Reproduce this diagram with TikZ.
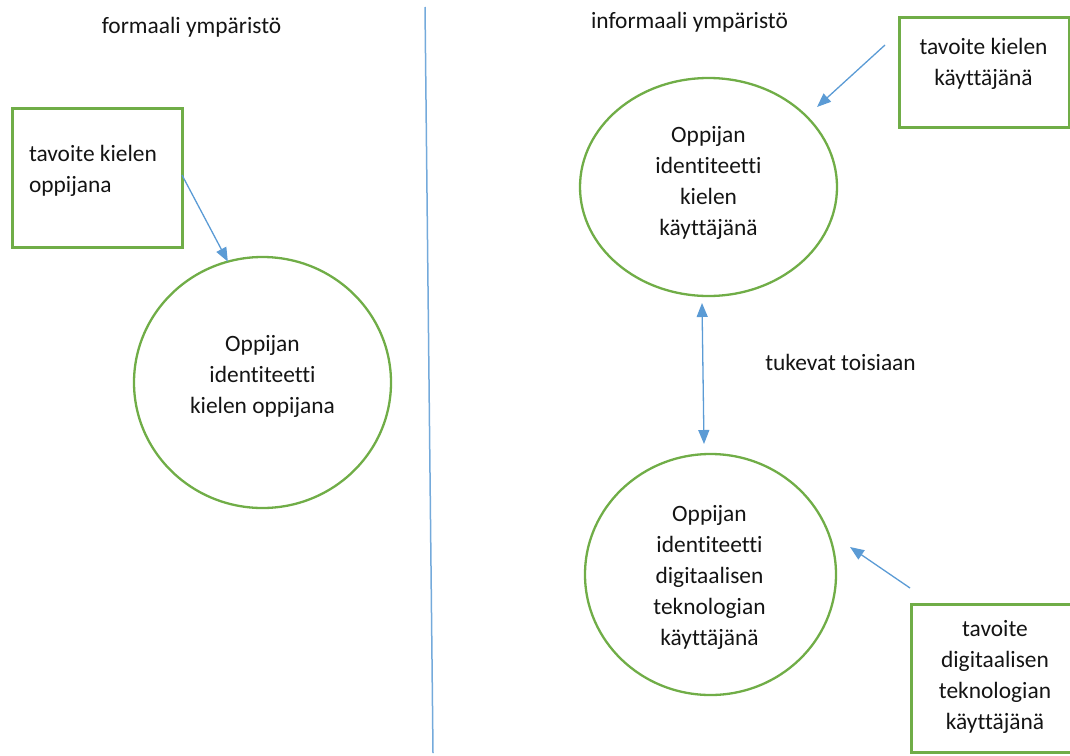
\documentclass[tikz,border=0pt]{standalone}
\usepackage{fontspec}
\setmainfont{Carlito}[RawFeature={-liga,-clig,-dlig}]
\usetikzlibrary{shapes.geometric,arrows.meta}
\definecolor{goalgreen}{HTML}{70AD47}
\definecolor{linkblue}{HTML}{5B9BD5}
\definecolor{inktext}{HTML}{141414}
\begin{document}
\begin{tikzpicture}[x=1pt,y=-1pt,
  every node/.style={inner sep=0pt, outer sep=0pt},
  txt/.style={font=\fontsize{23.4}{31}\selectfont, text=inktext, align=center},
  goalbox/.style={draw=goalgreen, line width=3pt, rectangle},
  identity/.style={draw=goalgreen, line width=2.3pt, ellipse},
  link/.style={draw=linkblue, line width=1.3pt, -{Triangle[length=14pt,width=11pt]}},
  twoway/.style={draw=linkblue, line width=1.3pt, {Triangle[length=14pt,width=11pt]}-{Triangle[length=14pt,width=11pt]}},
]
\useasboundingbox (0,0) rectangle (1070,755);

% headings of the two environments
\node[txt, anchor=base] (hformal) at (191.5,33) {formaali ympäristö};
\node[txt, anchor=base] (hinformal) at (689.5,28) {informaali ympäristö};

% divider between the two environments
\coordinate (divtop) at (425,7);
\coordinate (divbot) at (433,753);
\draw[linkblue!85, line width=1.5pt] (divtop) -- (divbot);

% goal boxes
\node[goalbox, minimum width=170pt, minimum height=139pt] (box1) at (97,177.5) {};
\node[txt, align=left, anchor=west] (box1t) at (29,170.5) {tavoite kielen\\oppijana};

\node[goalbox, minimum width=170pt, minimum height=110pt] (box2) at (984,72) {};
\node[txt] (box2t) at (983.5,64) {tavoite kielen\\käyttäjänä};

\node[goalbox, minimum width=168pt, minimum height=148pt] (box3) at (995,678) {};
\node[txt] (box3t) at (995,676.5) {tavoite\\digitaalisen\\teknologian\\käyttäjänä};

% identity ellipses
\node[identity, minimum width=257pt, minimum height=251pt] (c1) at (262.5,382.5) {};
\node[txt] (c1t) at (262.5,376) {Oppijan\\identiteetti\\kielen oppijana};

\node[identity, minimum width=257pt, minimum height=218pt] (c2) at (708.5,187) {};
\node[txt] (c2t) at (708.5,182.5) {Oppijan\\identiteetti\\kielen\\käyttäjänä};

\node[identity, minimum width=251pt, minimum height=241pt] (c3) at (710.5,574.5) {};
\node[txt] (c3t) at (709.5,577) {Oppijan\\identiteetti\\digitaalisen\\teknologian\\käyttäjänä};

% arrows
\draw[link] ([yshift=2.5pt]box1.east) -- (c1.106);

\coordinate (a2s) at (885,45);
\coordinate (a2e) at (817,107);
\draw[link] (a2s) -- (a2e);

\coordinate (a3s) at (702,303);
\coordinate (a3e) at (704,444);
\draw[twoway] (a3s) -- (a3e);
\node[txt, anchor=base] (support) at (840.5,370) {tukevat toisiaan};

\coordinate (a4s) at (910,588);
\coordinate (a4e) at (850,547);
\draw[link] (a4s) -- (a4e);
\end{tikzpicture}
\end{document}
